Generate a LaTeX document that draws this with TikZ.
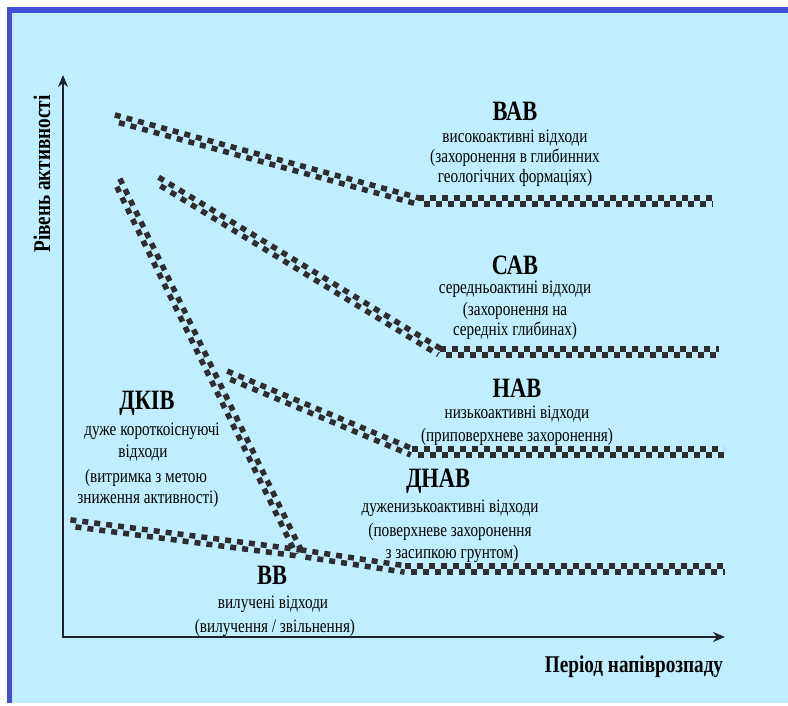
\documentclass[tikz,border=0pt]{standalone}
\usepackage{fontspec}
\setmainfont{Liberation Serif}[FakeStretch=0.8]
\usetikzlibrary{calc,arrows.meta}
\definecolor{bgblue}{RGB}{192,238,254}
\definecolor{frameblue}{RGB}{64,80,208}
\definecolor{axiscol}{RGB}{28,34,46}
\definecolor{chkcol}{RGB}{45,45,50}
\tikzset{
  chkrow/.style={chkcol, line width=5.5pt, dash pattern=on 6pt off 6pt},
  axisline/.style={axiscol, line width=2.6pt, -{Stealth[length=12pt,width=10pt]}},
  ttl/.style={font=\fontsize{28}{30}\selectfont\bfseries, inner sep=0pt, anchor=base},
  dsc/.style={font=\fontsize{19}{21}\selectfont, inner sep=0pt, anchor=base},
  axlbl/.style={font=\fontsize{24}{26}\selectfont\bfseries, inner sep=0pt},
}
\newcommand\chkseg[2]{%
  \draw[chkrow] ($(#1)!3.2pt!90:(#2)$) -- ($(#2)!3.2pt!-90:(#1)$);
  \draw[chkrow,dash phase=6pt] ($(#1)!3.2pt!-90:(#2)$) -- ($(#2)!3.2pt!90:(#1)$);
}
\begin{document}
\begin{tikzpicture}[x=1pt,y=-1pt]
\useasboundingbox (0,0) rectangle (788,706);
% background and frame
\fill[white] (0,0) rectangle (788,706);
\fill[bgblue] (7,7) rectangle (788,703);
\fill[frameblue] (7,7) rectangle (788,13);
\fill[frameblue] (7,7) rectangle (12,703);

% axes
\coordinate (O) at (63,637);
\coordinate (ytip) at (63,75);
\coordinate (xtip) at (725,637);
\draw[axisline] (O) -- (ytip);
\draw[axisline] ([xshift=-1.3pt]O) -- (xtip);
\node[axlbl, rotate=90] (ylab) at (42,174) {Рівень активності};
\node[axlbl] (xlab) at (634,667) {Період напіврозпаду};

% checker lines
\coordinate (a1) at (114,118);
\coordinate (a2) at (418,201);
\coordinate (a3) at (713,201);
\chkseg{a1}{a2}\chkseg{a2}{a3}

\coordinate (c1) at (157,180);
\coordinate (c2) at (440,352);
\coordinate (c3) at (719,352);
\chkseg{c1}{c2}\chkseg{c2}{c3}

\coordinate (k1) at (117,180);
\coordinate (k2) at (299,553);
\chkseg{k1}{k2}

\coordinate (n1) at (226,374);
\coordinate (n2) at (412,452);
\coordinate (n3) at (724,452);
\chkseg{n1}{n2}\chkseg{n2}{n3}

\coordinate (b1) at (70,523);
\coordinate (b2) at (300,553);
\coordinate (b3) at (405,569);
\coordinate (b4) at (725,569);
\chkseg{b1}{b2}\chkseg{b2}{b3}\chkseg{b3}{b4}

% labels
\node[ttl] (vabT) at (515,121) {ВАВ};
\node[dsc] (vab1) at (515,143) {високоактивні відходи};
\node[dsc] (vab2) at (515,163) {(захоронення в глибинних};
\node[dsc] (vab3) at (515,183) {геологічних формаціях)};

\node[ttl] (cabT) at (515,274) {САВ};
\node[dsc] (cab1) at (515,293) {середньоактині відходи};
\node[dsc] (cab2) at (515,315) {(захоронення на};
\node[dsc] (cab3) at (515,335) {середніх глибинах)};

\node[ttl] (navT) at (517,397) {НАВ};
\node[dsc] (nav1) at (517,418) {низькоактивні відходи};
\node[dsc] (nav2) at (517,441) {(приповерхневе захоронення)};

\node[ttl] (dnavT) at (438,487) {ДНАВ};
\node[dsc] (dnav1) at (450,512) {дуженизькоактивні відходи};
\node[dsc] (dnav2) at (450,536) {(поверхневе захоронення};
\node[dsc] (dnav3) at (452,558) {з засипкою грунтом)};

\node[ttl] (dkivT) at (147,409) {ДКІВ};
\node[dsc] (dkiv1) at (152,435) {дуже короткоіснуючі};
\node[dsc] (dkiv2) at (143,457) {відходи};
\node[dsc] (dkiv3) at (146,482) {(витримка з метою};
\node[dsc] (dkiv4) at (148,503) {зниження активності)};

\node[ttl] (vvT) at (272,584) {ВВ};
\node[dsc] (vv1) at (273,608) {вилучені відходи};
\node[dsc] (vv2) at (275,632) {(вилучення / звільнення)};
\end{tikzpicture}
\end{document}
